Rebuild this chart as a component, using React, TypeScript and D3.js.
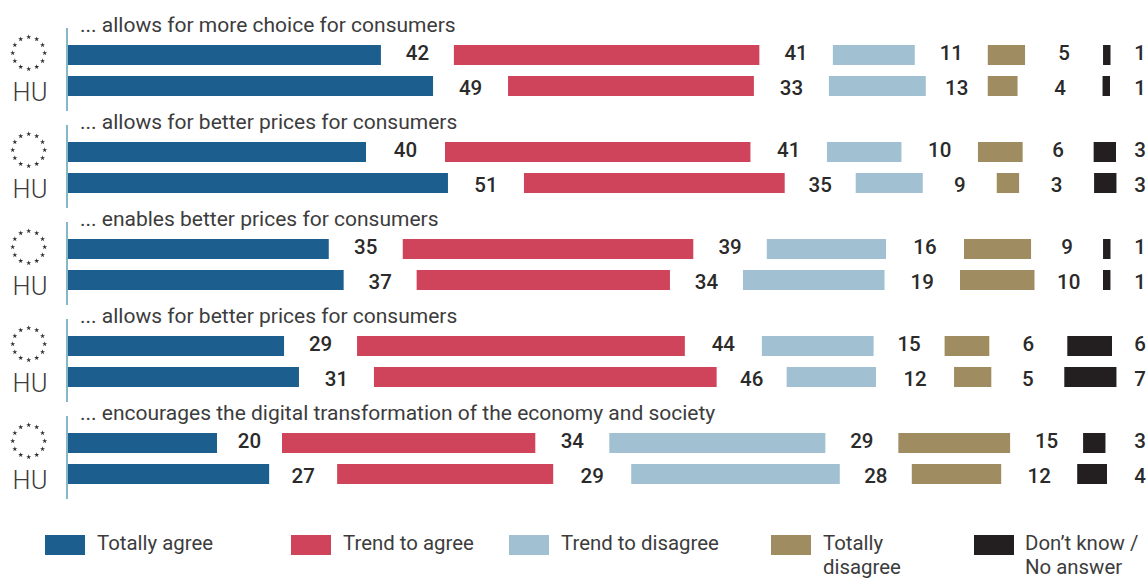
import React from "react";
import * as d3 from "d3";

// Survey statements, one per block of two rows (EU on top, HU below)
const statements = [
  "... allows for more choice for consumers",
  "... allows for better prices for consumers",
  "... enables better prices for consumers",
  "... allows for better prices for consumers",
  "... encourages the digital transformation of the economy and society",
];

const responses = ["Totally agree", "Trend to agree", "Trend to disagree", "Totally disagree", "Don’t know / No answer"];

// Percent per row, in order: block 1 EU, block 1 HU, block 2 EU, ...
const totallyAgree = [42, 49, 40, 51, 35, 37, 29, 31, 20, 27];
const trendToAgree = [41, 33, 41, 35, 39, 34, 44, 46, 34, 29];
const trendToDisagree = [11, 13, 10, 9, 16, 19, 15, 12, 29, 28];
const totallyDisagree = [5, 4, 6, 3, 9, 10, 6, 5, 15, 12];
const dontKnow = [1, 1, 3, 3, 1, 1, 6, 7, 3, 4];

const seriesValues = [totallyAgree, trendToAgree, trendToDisagree, totallyDisagree, dontKnow];

const colors = ["#1c5e8d", "#cf445b", "#a1c1d3", "#9f8c61", "#231f20"];

// Width of the white slot holding a value label, after each of the first four bars of a row
const labelSlots = [
  [73, 73.5, 73, 78],
  [75, 75, 62, 85],
  [79, 76.5, 76.5, 71],
  [76, 71, 74, 75],
  [74, 73.5, 78, 72],
  [73, 73, 75.5, 68.5],
  [73, 77, 71, 78],
  [75, 70, 78, 73],
  [65, 74, 73, 73],
  [68, 78, 72, 76],
];

const legendLines = [["Totally agree"], ["Trend to agree"], ["Trend to disagree"], ["Totally", "disagree"], ["Don’t know /", "No answer"]];
const legendX = [45, 291, 509, 771, 974];

const WIDTH = 1148;
const HEIGHT = 578;
const AXIS_X = 68;
const BAR_H = 20;
const ROW_STEP = 31;
const LAST_LABEL_X = 1140;

const FONT = "Roboto, sans-serif";
const TEXT_DARK = "#3c3c3c";
const TEXT_VALUE = "#2b2a2a";

const xWidth = d3.scaleLinear().domain([0, 100]).range([0, 745]);
const blockTop = d3.scaleLinear().domain([0, 4]).range([45, 433]);

// Bar starts and label centres for one row; bars run left to right with a label slot after each
function layoutRow(rowIndex: number) {
  let x = AXIS_X;
  return seriesValues.map((series, s) => {
    const value = series[rowIndex];
    const w = xWidth(value);
    const slot = s < 4 ? labelSlots[rowIndex][s] : 0;
    const item = { value, x, w, labelX: s < 4 ? x + w + slot / 2 : LAST_LABEL_X, color: colors[s], name: responses[s] };
    x += w + slot;
    return item;
  });
}

const starPath = d3.symbol().type(d3.symbolStar).size(8)() as string;

function EuStars({ cx, cy }: { cx: number; cy: number }) {
  const angle = d3.range(12).map((i) => (i * Math.PI) / 6);
  return (
    <g>
      {angle.map((a, i) => (
        <path key={i} d={starPath} fill="#333" transform={`translate(${cx + 16 * Math.sin(a)},${cy - 16 * Math.cos(a)})`} />
      ))}
    </g>
  );
}

export default function App() {
  return (
    <svg
      width={WIDTH}
      height={HEIGHT}
      viewBox={`0 0 ${WIDTH} ${HEIGHT}`}
      style={{ position: "absolute", left: 0, top: 0, background: "#fff" }}
      fontFamily={FONT}
    >
      {statements.map((statement, b) => {
        const top = blockTop(b);
        return (
          <g key={b}>
            <line x1={67} x2={67} y1={top - 17} y2={top + 66} stroke="#5f9db8" strokeWidth={1.5} />
            <EuStars cx={28.7} cy={top + 8} />
            <text x={30} y={top + 56} textAnchor="middle" fontSize={25.5} fontWeight={300} fill={TEXT_DARK}>
              HU
            </text>
            <text x={80} y={top - 13} fontSize={21} fill={TEXT_DARK}>
              {statement}
            </text>
            {[0, 1].map((r) => {
              const rowIndex = b * 2 + r;
              const y = top + r * ROW_STEP;
              return (
                <g key={r}>
                  {layoutRow(rowIndex).map((seg) => (
                    <g key={seg.name}>
                      <rect x={seg.x} y={y} width={seg.w} height={BAR_H} fill={seg.color} />
                      <text
                        x={seg.labelX}
                        y={y + (r === 0 ? 15 : 19)}
                        textAnchor="middle"
                        fontSize={20.5}
                        fontWeight={500}
                        fill={TEXT_VALUE}
                      >
                        {seg.value}
                      </text>
                    </g>
                  ))}
                </g>
              );
            })}
          </g>
        );
      })}
      {responses.map((name, i) => (
        <g key={name}>
          <rect x={legendX[i]} y={535} width={40} height={BAR_H} fill={colors[i]} />
          {legendLines[i].map((line, l) => (
            <text key={l} x={legendX[i] + (i === 4 ? 51 : 52)} y={550 + l * 23.5} fontSize={20.4} fill={TEXT_DARK}>
              {line}
            </text>
          ))}
        </g>
      ))}
    </svg>
  );
}
